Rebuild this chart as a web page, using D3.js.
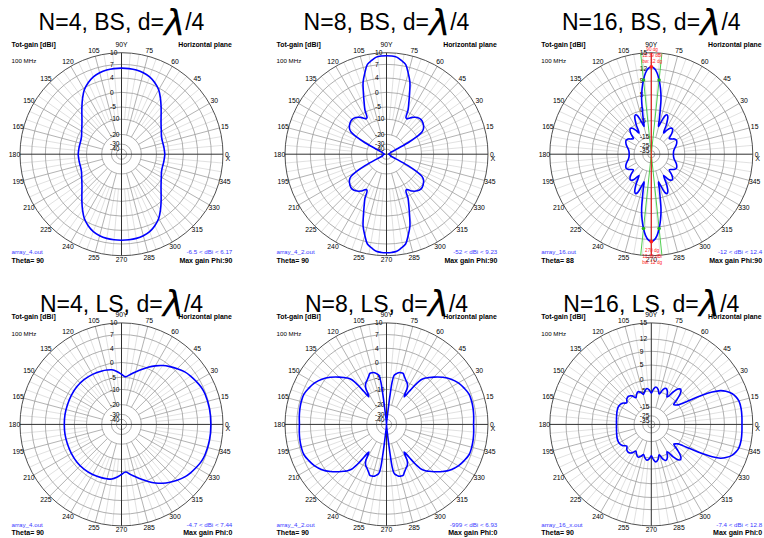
<!DOCTYPE html>
<html><head><meta charset="utf-8">
<script src="https://cdn.jsdelivr.net/npm/d3@7"></script>
<style>body{margin:0;background:#fff}svg{display:block}</style>
</head><body>
<svg id="c" width="764" height="538"></svg>
<script>
// ---------------- DATA ----------------
const panelN = ["4","8","16","4","8","16"];
const panelMode = ["BS","BS","BS","LS","LS","LS"];
const fileLabels = ["array_4.out","array_4_2.out","array_16.out","array_4.out","array_4_2.out","array_16_x.out"];
const rangeLabels = ["-6.5 < dBi < 6.17","-52 < dBi < 9.23","-12 < dBi < 12.4","-4.7 < dBi < 7.44","-999 < dBi < 6.93","-7.4 < dBi < 12.8"];
const thetaLabels = ["Theta= 90","Theta= 90","Theta= 88","Theta= 90","Theta= 90","Theta= 90"];
const maxPhiLabels = ["Max gain Phi:90","Max gain Phi:90","Max gain Phi:90","Max gain Phi:0","Max gain Phi:0","Max gain Phi:0"];
const gainTicks10 = [10,7,4,0,-5,-10,-20,-30,-40];
const gainTicks15 = [15,12,9,5,0,-5,-15,-25,-35];
const angleTicks = [0,15,30,45,60,75,90,105,120,135,150,165,180,195,210,225,240,255,270,285,300,315,330,345];

// N=4 BS
const p1Angles = [0,5,10,15,20,25,30,35,40,45,50,55,60,65,70,75,80,85,90,95,100,105,110,115,120,125,130,135,140,145,150,155,160,165,170,175,180,185,190,195,200,205,210,215,220,225,230,235,240,245,250,255,260,265,270,275,280,285,290,295,300,305,310,315,320,325,330,335,340,345,350,355];
const p1Gains = [-6.6,-6.7,-6.75,-6.8,-6.7,-6.3,-5.5,-4.6,-3.5,-2.0,-0.1,1.7,3.5,4.6,5.35,5.8,6.05,6.15,6.17,6.15,6.05,5.8,5.35,4.6,3.5,1.7,-0.1,-2.0,-3.5,-4.6,-5.5,-6.3,-6.7,-6.8,-6.75,-6.7,-6.6,-6.7,-6.75,-6.8,-6.7,-6.3,-5.5,-4.6,-3.5,-2.0,-0.1,1.7,3.5,4.6,5.35,5.8,6.05,6.15,6.17,6.15,6.05,5.8,5.35,4.6,3.5,1.7,-0.1,-2.0,-3.5,-4.6,-5.5,-6.3,-6.7,-6.8,-6.75,-6.7];

// N=8 BS
const p2Angles = [0,5,10,15,20,24,26,28,30,32,35,40,45,50,55,58,60,62,64,66,68,70,72,75,78,81,84,87,90,
 93,96,99,102,105,108,110,112,114,116,118,120,122,125,130,135,140,145,148,150,152,154,156,160,165,170,175,180,
 185,190,195,200,204,206,208,210,212,215,220,225,230,235,238,240,242,244,246,248,250,252,255,258,261,264,267,270,
 273,276,279,282,285,288,290,292,294,296,298,300,302,305,310,315,320,325,328,330,332,334,336,340,345,350,355];
const p2Gains = [-52,-50,-48,-46,-44,-40,-30,-17,-10,-7.2,-5.8,-4.8,-4.4,-4.8,-5.9,-7.0,-7.6,-7.4,-4.3,-2.5,-0.4,1.7,3.9,5.7,7.5,8.3,9.0,9.2,9.23,
 9.2,9.0,8.3,7.5,5.7,3.9,1.7,-0.4,-2.5,-4.3,-7.4,-7.6,-7.0,-5.9,-4.8,-4.4,-4.8,-5.8,-7.2,-10,-17,-30,-40,-44,-46,-48,-50,-52,
 -50,-48,-46,-44,-40,-30,-17,-10,-7.2,-5.8,-4.8,-4.4,-4.8,-5.9,-7.0,-7.6,-7.4,-4.3,-2.5,-0.4,1.7,3.9,5.7,7.5,8.3,9.0,9.2,9.23,
 9.2,9.0,8.3,7.5,5.7,3.9,1.7,-0.4,-2.5,-4.3,-7.4,-7.6,-7.0,-5.9,-4.8,-4.4,-4.8,-5.8,-7.2,-10,-17,-30,-40,-44,-46,-48,-50];

// N=16 BS
const p3Angles = [0,5,10,15,20,25,29,33,37,41,45,48,51,54,57,60,63,66,68,70,72,74,75.5,77,78.5,80,82,84,86,88,90,
 92,94,96,98,100,101.5,103,104.5,106,108,110,112,114,117,120,123,126,129,132,135,139,143,147,151,155,160,165,170,175,180,
 185,190,195,200,205,209,213,217,221,225,228,231,234,237,240,243,246,248,250,252,254,255.5,257,258.5,260,262,264,266,268,270,
 272,274,276,278,280,281.5,283,284.5,286,288,290,292,294,297,300,303,306,309,312,315,319,323,327,331,335,340,345,350,355];
const p3Gains = [-12,-11.9,-11.5,-10.6,-9.3,-8.3,-7.9,-8.5,-10,-11,-8,-6,-5.2,-5.9,-8,-10.5,-5,-1.8,-1.0,-1.5,-3.5,-6.5,-8,-4,0,3.8,7.0,9.4,11.1,12.1,12.39,
 12.1,11.1,9.4,7.0,3.8,0,-4,-8,-6.5,-3.5,-1.5,-1.0,-1.8,-5,-10.5,-8,-5.9,-5.2,-6,-8,-11,-10,-8.5,-7.9,-8.3,-9.3,-10.6,-11.5,-11.9,-12,
 -11.9,-11.5,-10.6,-9.3,-8.3,-7.9,-8.5,-10,-11,-8,-6,-5.2,-5.9,-8,-10.5,-5,-1.8,-1.0,-1.5,-3.5,-6.5,-8,-4,0,3.8,7.0,9.4,11.1,12.1,12.39,
 12.1,11.1,9.4,7.0,3.8,0,-4,-8,-6.5,-3.5,-1.5,-1.0,-1.8,-5,-10.5,-8,-5.9,-5.2,-6,-8,-11,-10,-8.5,-7.9,-8.3,-9.3,-10.6,-11.5,-11.9];
const p3BeamAngles = [90,270];
const p3BeamGain = 12.39;
const p3BwEdges = [84,96,264,276];
const p3BeamText = [["90 dg","12.39 dBi","bw: 12 dg"],["270 dg","12.39 dBi","bw: 12 dg"]];

// N=4 LS
const p4Angles = [0,10,20,25,30,35,40,45,50,55,60,65,70,75,80,85,90,95,100,105,110,120,130,140,150,160,170,180,
 190,200,210,220,230,240,250,255,260,265,270,275,280,285,290,295,300,305,310,315,320,325,330,335,340,350];
const p4Gains = [6.9,6.9,6.8,6.6,6.2,5.8,5.3,4.6,3.8,2.8,1.6,0.3,-1.2,-2.6,-3.8,-4.8,-4.0,-3.0,-2.2,-1.9,-1.7,-1.4,-1.2,-1.2,-1.35,-1.5,-1.55,-1.6,
 -1.55,-1.5,-1.35,-1.2,-1.2,-1.4,-1.7,-1.9,-2.2,-3.0,-4.0,-4.8,-3.8,-2.6,-1.2,0.3,1.6,2.8,3.8,4.6,5.3,5.8,6.2,6.6,6.8,6.9];

// N=8 LS
const p5Angles = [0,5,10,15,20,25,30,35,40,45,48,50,52,54,55.5,57.5,59,60,62,64,66.5,70,72,74.5,77,79,80.5,81.5,82.5,83,83.5,84.5,86,88,90,
 92,94,95.5,96.5,97,97.5,98.5,99.5,101,103,105.5,108,110,113.5,116,118,120,121,122.5,124.5,126,128,130,132,135,140,145,150,155,160,165,170,175,180,
 185,190,195,200,205,210,215,220,225,228,230,232,234,235.5,237.5,239,240,242,244,246.5,250,252,254.5,257,259,260.5,261.5,262.5,263,263.5,264.5,266,268,270,
 272,274,275.5,276.5,277,277.5,278.5,279.5,281,283,285.5,288,290,293.5,296,298,300,301,302.5,304.5,306,308,310,312,315,320,325,330,335,340,345,350,355];
const p5Gains = [6.4,6.5,6.6,6.65,6.6,6.1,5.5,4.6,3.2,1.4,0.3,-0.5,-1.7,-4.5,-8,-11.5,-9.5,-7.5,-6,-5.2,-4.6,-3.5,-2.8,-2.8,-3.0,-3.5,-3.9,-4.5,-7,-12,-20,-35,-45,-55,-70,
 -55,-45,-35,-20,-12,-7,-4.5,-3.9,-3.5,-3.0,-2.8,-2.8,-3.5,-4.6,-5.2,-6,-7.5,-9.5,-11.5,-8,-4.5,-1.7,-0.5,0.3,1.4,3.2,4.6,5.5,6.1,6.6,6.65,6.6,6.5,6.4,
 6.5,6.6,6.65,6.6,6.1,5.5,4.6,3.2,1.4,0.3,-0.5,-1.7,-4.5,-8,-11.5,-9.5,-7.5,-6,-5.2,-4.6,-3.5,-2.8,-2.8,-3.0,-3.5,-3.9,-4.5,-7,-12,-20,-35,-45,-55,-70,
 -55,-45,-35,-20,-12,-7,-4.5,-3.9,-3.5,-3.0,-2.8,-2.8,-3.5,-4.6,-5.2,-6,-7.5,-9.5,-11.5,-8,-4.5,-1.7,-0.5,0.3,1.4,3.2,4.6,5.5,6.1,6.6,6.65,6.6,6.5];

// N=16 LS
const p6Angles = [0,5,10,15,18,21,24,26,28,30,32,34,36,38.5,41.4,44,47,50,53,56,60,64,68,71.5,75.5,79,83,86.5,90,93.5,97,101,104.5,108,112,116,120,124,129,134,138.6,144,151,158,166,173,180,
 187,194,202,209,216,221.4,226,231,236,240,244,248,252,255.5,259,263,266.5,270,273.5,277,281,284.5,288.5,292,296,300,304,307,310,313,316,318.6,321.5,324,326,328,330,332,334,336,339,342,345,350,355];
const p6Gains = [13.0,13.05,13.1,13.0,12.7,12.2,11.1,10.0,7.8,4.5,0.5,-3.0,-5.2,-6.4,-7.2,-4.0,-0.8,0.4,-0.2,-2.5,-6.2,-3.5,-2.6,-3.6,-6.3,-4.0,-3.1,-4.2,-6.3,-4.5,-3.8,-4.8,-6.5,-5.0,-4.2,-5.0,-6.6,-4.6,-3.8,-4.2,-5.5,-3.9,-3.3,-3.5,-4.0,-4.3,-4.4,
 -4.3,-4.0,-3.5,-3.3,-3.9,-5.5,-4.2,-3.8,-4.6,-6.6,-5.0,-4.2,-5.0,-6.5,-4.8,-3.8,-4.5,-6.3,-4.2,-3.1,-4.0,-6.3,-3.6,-2.6,-3.5,-6.2,-2.5,-0.2,0.4,-0.8,-4.0,-7.2,-6.4,-5.2,-3.0,0.5,4.5,7.8,10.0,11.1,12.2,12.7,13.0,13.1,13.05];

// ---------------- DRAWING ----------------
const svg = d3.select("#c");
const R = 101.5;
const colX = [121.5, 386.5, 651.3];
const rowY = [154.2, 424.4];
const ringFrac10 = [1,0.885,0.75,0.61,0.465,0.345,0.195,0.10,0.05];
const ringFrac15 = [1,0.84,0.72,0.585,0.44,0.33,0.17,0.085,0.035];
const FONT = "'Liberation Sans', Arial, sans-serif";

const panels = [
  {angles:p1Angles, gains:p1Gains, ticks:gainTicks10, frac:ringFrac10, floor:-60},
  {angles:p2Angles, gains:p2Gains, ticks:gainTicks10, frac:ringFrac10, floor:-60},
  {angles:p3Angles, gains:p3Gains, ticks:gainTicks15, frac:ringFrac15, floor:-55},
  {angles:p4Angles, gains:p4Gains, ticks:gainTicks10, frac:ringFrac10, floor:-60},
  {angles:p5Angles, gains:p5Gains, ticks:gainTicks10, frac:ringFrac10, floor:-60},
  {angles:p6Angles, gains:p6Gains, ticks:gainTicks15, frac:ringFrac15, floor:-55}
];

const rad = a => a * Math.PI / 180;

panels.forEach((p, i) => {
  const col = i % 3, row = Math.floor(i / 3);
  const cx = colX[col], cy = rowY[row];
  const sh = row * 2.5;
  const ringR = p.frac.map(f => f * R);
  const rScale = d3.scaleLinear()
    .domain([p.floor].concat(p.ticks.slice().reverse()))
    .range([0].concat(ringR.slice().reverse()))
    .clamp(true);

  const g = svg.append("g").attr("transform", `translate(${cx},${cy})`);

  // spokes
  d3.range(0, 360, 5).forEach(a => {
    if (a % 90 === 0) return;
    const major = a % 15 === 0;
    const r0 = major ? ringR[6] : ringR[5];
    g.append("line")
      .attr("x1", r0 * Math.cos(rad(a))).attr("y1", -r0 * Math.sin(rad(a)))
      .attr("x2", R * Math.cos(rad(a))).attr("y2", -R * Math.sin(rad(a)))
      .attr("stroke", major ? "#a0a0a0" : "#d4d4d4").attr("stroke-width", major ? 0.8 : 0.7);
  });
  // rings
  ringR.slice(1).forEach(r => {
    g.append("circle").attr("r", r).attr("fill", "none").attr("stroke", "#9a9a9a").attr("stroke-width", 0.8);
  });
  g.append("circle").attr("r", R).attr("fill", "none").attr("stroke", "#505050").attr("stroke-width", 1);
  // axes
  g.append("line").attr("x1", -R).attr("x2", R).attr("y1", 0).attr("y2", 0).attr("stroke", "#303030").attr("stroke-width", 1);
  g.append("line").attr("x1", 0).attr("x2", 0).attr("y1", -R).attr("y2", R).attr("stroke", "#303030").attr("stroke-width", 1);

  // radial tick labels
  p.ticks.forEach((t, k) => {
    g.append("text").attr("x", -11.5).attr("y", -ringR[k]).attr("dy", "0.35em")
      .attr("font-family", FONT).attr("font-size", 6.6).attr("fill", "#000").text(String(t));
  });

  // angle labels
  angleTicks.forEach(a => {
    let rr = R + 5.5;
    if (a === 0 || a === 270) rr = R + 3.8;
    if (a === 90) rr = R + 8;
    const lbl = a === 90 ? "90Y" : String(a);
    g.append("text").attr("x", rr * Math.cos(rad(a))).attr("y", -rr * Math.sin(rad(a)))
      .attr("dy", "0.35em").attr("text-anchor", "middle")
      .attr("font-family", FONT).attr("font-size", 6.8).text(lbl);
  });
  g.append("text").attr("x", R + 4.8).attr("y", 4.4).attr("dy", "0.35em").attr("text-anchor", "middle")
    .attr("font-family", FONT).attr("font-size", 7.2).text("X");

  // pattern curve
  const pts = p.angles.map((a, k) => ({a: a, gv: p.gains[k]}));
  const line = d3.lineRadial()
    .angle(d => rad(90 - d.a))
    .radius(d => rScale(d.gv))
    .curve(d3.curveCatmullRomClosed.alpha(0.5));

  if (i === 2) {
    p3BwEdges.slice(0, 2).forEach(a => {
      g.append("line")
        .attr("x1", R * Math.cos(rad(a))).attr("y1", -R * Math.sin(rad(a)))
        .attr("x2", -R * Math.cos(rad(a))).attr("y2", R * Math.sin(rad(a)))
        .attr("stroke", "#3cc83c").attr("stroke-width", 0.9);
    });
    g.append("line").attr("x1", 0).attr("x2", 0).attr("y1", -R).attr("y2", R)
      .attr("stroke", "#ff2020").attr("stroke-width", 1);
  }

  g.append("path").attr("d", line(pts)).attr("fill", "none").attr("stroke", "#0000ff").attr("stroke-width", 1.6);

  if (i === 2) {
    p3BwEdges.forEach(a => {
      const r = rScale(p3BeamGain - 3);
      g.append("circle").attr("cx", r * Math.cos(rad(a))).attr("cy", -r * Math.sin(rad(a)))
        .attr("r", 1.8).attr("fill", "#20b020");
    });
    p3BeamAngles.forEach((a, k) => {
      const r = rScale(p3BeamGain);
      g.append("circle").attr("cx", r * Math.cos(rad(a))).attr("cy", -r * Math.sin(rad(a)))
        .attr("r", 1.9).attr("fill", "#ff2020");
      const y0 = k === 0 ? -104.5 : 96.5;
      p3BeamText[k].forEach((s, j) => {
        g.append("text").attr("x", 0.8).attr("y", y0 + j * 6).attr("dy", "0.35em").attr("text-anchor", "middle")
          .attr("font-family", FONT).attr("font-size", 4.6).attr("fill", "#ff2020").text(s);
      });
    });
  }

  // header / footer texts
  const L = cx - 110, Rt = cx + 110.8;
  const t = (x, y, s, opts) => {
    const e = svg.append("text").attr("x", x).attr("y", y).attr("font-family", FONT)
      .attr("font-size", opts.size).attr("fill", opts.fill || "#000").text(s);
    if (opts.bold) e.attr("font-weight", "bold");
    if (opts.end) e.attr("text-anchor", "end");
    return e;
  };
  t(L, cy - 107.5 + sh, "Tot-gain [dBi]", {size: 6.9, bold: true});
  t(Rt - 0.5, cy - 107.5 + sh, "Horizontal plane", {size: 6.9, bold: true, end: true});
  t(L, cy - 91 + sh, "100 MHz", {size: 6.2});
  t(L, cy + 100 + sh, fileLabels[i], {size: 6.2, fill: "#3a3aff"});
  t(L, cy + 108.5 + sh, thetaLabels[i], {size: 7, bold: true});
  t(Rt, cy + 100 + sh, rangeLabels[i], {size: 6.2, fill: "#3a3aff", end: true});
  t(Rt, cy + 108.5 + sh, maxPhiLabels[i], {size: 7, bold: true, end: true});

  // title (drawn on top, as in the reference)
  const ty = row === 0 ? 30 : 311.7;
  const title = svg.append("text").attr("x", cx).attr("y", ty).attr("text-anchor", "middle")
    .attr("font-family", FONT).attr("font-size", 23).attr("fill", "#000");
  title.append("tspan").text(`N=${panelN[i]}, ${panelMode[i]}, d=`);
  title.append("tspan").attr("font-family", "'DejaVu Sans', sans-serif").attr("font-style", "italic")
    .attr("font-size", 36).attr("dy", 4.5).text("λ");
  title.append("tspan").attr("dy", -4.5).text("/4");
});
</script>
</body></html>
